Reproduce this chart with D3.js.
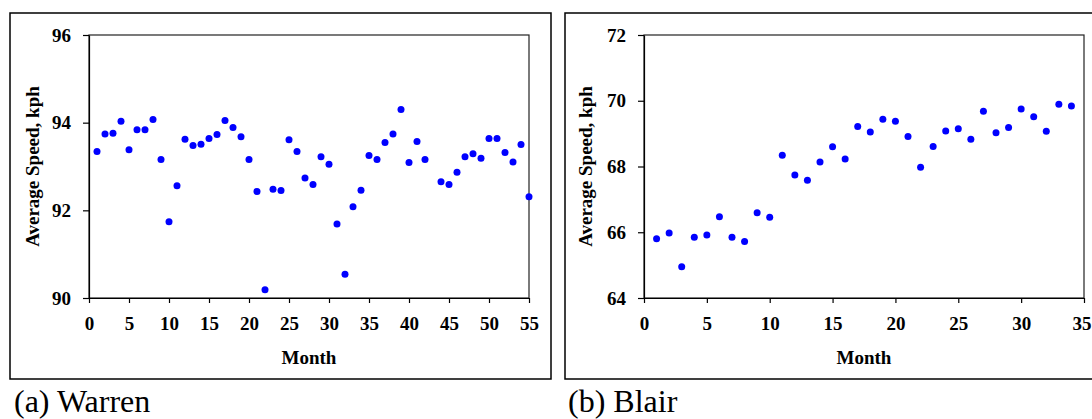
<!DOCTYPE html>
<html>
<head>
<meta charset="utf-8">
<script src="https://cdn.jsdelivr.net/npm/d3@7"></script>
<style>
  body { margin: 0; background: #fff; }
  svg { display: block; }
</style>
</head>
<body>
<div id="chart"></div>
<script>
// Warren: month 43 has no reading
var warren_months = [1,2,3,4,5,6,7,8,9,10,11,12,13,14,15,16,17,18,19,20,21,22,23,24,25,26,27,28,29,30,
  31,32,33,34,35,36,37,38,39,40,41,42,44,45,46,47,48,49,50,51,52,53,54,55]
var warren_speed = [93.34,93.74,93.76,94.03,93.38,93.84,93.84,94.07,93.16,91.74,92.56,93.62,93.48,93.51,93.64,
  93.73,94.05,93.89,93.68,93.16,92.43,90.19,92.48,92.45,93.61,93.34,92.74,92.59,93.22,93.05,
  91.69,90.54,92.08,92.46,93.25,93.16,93.55,93.74,94.30,93.09,93.57,93.16,92.65,92.59,92.87,
  93.22,93.29,93.19,93.64,93.64,93.32,93.10,93.50,92.31]

var blair_months = [1,2,3,4,5,6,7,8,9,10,11,12,13,14,15,16,17,18,19,20,21,22,23,24,25,26,27,28,29,30,31,32,33,34]
var blair_speed = [65.80,65.98,64.95,65.85,65.92,66.47,65.85,65.72,66.59,66.46,68.34,67.74,67.58,68.14,68.60,
  68.23,69.22,69.05,69.44,69.38,68.91,67.98,68.61,69.08,69.15,68.83,69.68,69.03,69.19,69.75,69.51,69.07,69.89,69.84]

var warren_xticks = [0,5,10,15,20,25,30,35,40,45,50,55]
var warren_yticks = [90,92,94,96]
var blair_xticks = [0,5,10,15,20,25,30,35]
var blair_yticks = [64,66,68,70,72]

var width = 1092
var height = 419
var serif = "'Liberation Serif', 'DejaVu Serif', 'Times New Roman', Times, serif"

var svg = d3.select("#chart")
            .append("svg")
            .attr("width", width)
            .attr("height", height)

// Draws one framed panel with its scatter plot
function panel(opts){
  var g = svg.append("g")

  // Outer frame of the chart
  g.append("rect")
    .attr("x", opts.frame[0])
    .attr("y", opts.frame[1])
    .attr("width", opts.frame[2])
    .attr("height", opts.frame[3])
    .attr("fill", "none")
    .attr("stroke", "#000")
    .attr("stroke-width", 1.5)

  var xscale = d3.scaleLinear()
    .domain(opts.xdomain)
    .range([opts.left, opts.right])

  var yscale = d3.scaleLinear()
    .domain(opts.ydomain)
    .range([opts.bottom, opts.top])

  // Plot area border
  g.append("rect")
    .attr("x", opts.left)
    .attr("y", opts.top)
    .attr("width", opts.right - opts.left)
    .attr("height", opts.bottom - opts.top)
    .attr("fill", "none")
    .attr("stroke", "#222")
    .attr("stroke-width", 1.2)

  var xaxis = d3.axisBottom(xscale)
                .tickValues(opts.xticks)
                .tickFormat(d3.format("d"))
                .tickSize(5)
                .tickPadding(14)
                .tickSizeOuter(0)

  var yaxis = d3.axisLeft(yscale)
                .tickValues(opts.yticks)
                .tickFormat(d3.format("d"))
                .tickSize(6)
                .tickPadding(12)
                .tickSizeOuter(0)

  var xg = g.append("g")
    .attr("transform", "translate(0," + opts.bottom + ")")
    .call(xaxis)

  var yg = g.append("g")
    .attr("transform", "translate(" + opts.left + ",0)")
    .call(yaxis)

  ;[xg, yg].forEach(function(a){
    a.attr("font-family", null).attr("font-size", null)
    a.select(".domain").attr("stroke", "#000").attr("stroke-width", 1.2)
    a.selectAll(".tick line").attr("stroke", "#000").attr("stroke-width", 1.2)
    a.selectAll(".tick text")
      .attr("fill", "#000")
      .style("font-family", serif)
      .style("font-weight", "bold")
      .style("font-size", "19px")
  })

  // keep the last x label inside the window
  if(opts.last_label_end){
    xg.selectAll(".tick text")
      .filter(function(d){ return d === opts.xdomain[1] })
      .attr("text-anchor", "end")
      .attr("x", width - 1 - xscale(opts.xdomain[1]))
  }

  // Axis titles
  g.append("text")
    .attr("text-anchor", "middle")
    .attr("x", (opts.left + opts.right) / 2)
    .attr("y", 364)
    .style("font-family", serif)
    .style("font-weight", "bold")
    .style("font-size", "19px")
    .text("Month")

  g.append("text")
    .attr("text-anchor", "middle")
    .attr("transform", "translate(" + opts.ytitle_x + "," + ((opts.top + opts.bottom) / 2) + ") rotate(-90)")
    .style("font-family", serif)
    .style("font-weight", "bold")
    .style("font-size", "19px")
    .text("Average Speed, kph")

  // Points
  g.selectAll("circle")
    .data(opts.months)
    .enter()
    .append("circle")
    .attr("cx", function(d){ return xscale(d) })
    .attr("cy", function(d, i){ return yscale(opts.values[i]) })
    .attr("r", 3.5)
    .attr("fill", "#0000ff")

  // Caption under the frame
  g.append("text")
    .attr("x", opts.caption_x)
    .attr("y", 412)
    .style("font-family", serif)
    .style("font-size", "32px")
    .text(opts.caption)
}

panel({
  frame: [10, 13, 541, 366],
  left: 89, right: 529, top: 35, bottom: 298,
  xdomain: [0, 55], ydomain: [90, 96],
  xticks: warren_xticks, yticks: warren_yticks,
  months: warren_months, values: warren_speed,
  ytitle_x: 39,
  caption: "(a) Warren", caption_x: 14
})

panel({
  frame: [565, 13, 540, 366],
  left: 644, right: 1084, top: 35, bottom: 298,
  xdomain: [0, 35], ydomain: [64, 72],
  xticks: blair_xticks, yticks: blair_yticks,
  months: blair_months, values: blair_speed,
  ytitle_x: 592,
  last_label_end: true,
  caption: "(b) Blair", caption_x: 568
})
</script>
</body>
</html>
